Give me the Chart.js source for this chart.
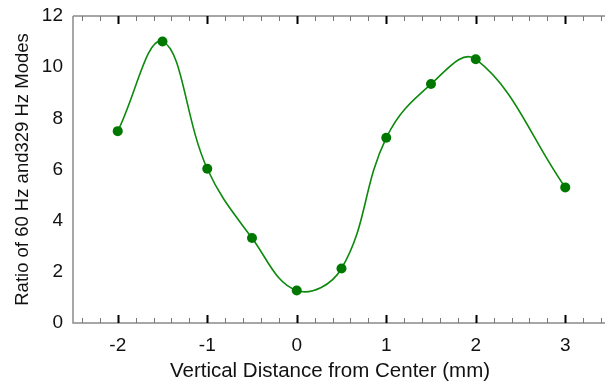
<!DOCTYPE html>
<html>
<head>
<meta charset="utf-8">
<script src="https://cdn.jsdelivr.net/npm/chart.js@4/dist/chart.umd.min.js"></script>
<style>
  html, body { margin: 0; padding: 0; background: #fff; overflow: hidden; }
  #wrap { width: 605px; height: 383px; overflow: hidden; }
</style>
</head>
<body>
<div id="wrap"><canvas id="myChart" width="620" height="383"></canvas></div>
<script>
// datos
const distances = [-2, -1.5, -1, -0.5, 0, 0.5, 1, 1.5, 2, 3];
const ratios = [7.5, 11.0, 6.03, 3.32, 1.27, 2.13, 7.24, 9.34, 10.31, 5.3];
const xTickLabels = [-2, -1, 0, 1, 2, 3];
const yTickLabels = [0, 2, 4, 6, 8, 10, 12];
const xTitle = "Vertical Distance from Center (mm)";
const yTitle = "Ratio of 60 Hz and329 Hz Modes";

const lineColor = "#0b8a0b";
const pointColor = "#007800";
const fontFamily = "Liberation Sans, Arial, sans-serif";

// marcas menores cada 0.2 en el eje x
const xMinorTicks = [];
for (let i = -12; i <= 17; i++) xMinorTicks.push(Math.round(i * 2) / 10);

const isMajor = (v) => xTickLabels.some((t) => Math.abs(t - v) < 1e-6);

// marco y marcas hacia adentro (como en la grafica original)
const framePlugin = {
  id: "frame",
  beforeDatasetsDraw(chart) {
    const { ctx, chartArea, scales } = chart;
    const x = scales.x;
    ctx.save();
    ctx.strokeStyle = "#8a8a8a";
    ctx.lineWidth = 1.5;
    ctx.beginPath();
    ctx.moveTo(chartArea.left, chartArea.top);
    ctx.lineTo(chart.width, chartArea.top);
    ctx.moveTo(chartArea.left, chartArea.top);
    ctx.lineTo(chartArea.left, chartArea.bottom);
    ctx.lineTo(chart.width, chartArea.bottom);
    ctx.stroke();

    xMinorTicks.forEach((v) => {
      const px = Math.round(x.getPixelForValue(v)) + 0.5;
      const major = isMajor(v);
      ctx.strokeStyle = major ? "#000" : "#777";
      ctx.lineWidth = major ? 2 : 1;
      const len = major ? 7 : 4;
      ctx.beginPath();
      ctx.moveTo(px, chartArea.top);
      ctx.lineTo(px, chartArea.top + len + 1);
      ctx.moveTo(px, chartArea.bottom);
      ctx.lineTo(px, chartArea.bottom - len - 1);
      ctx.stroke();
    });

    // titulo del eje x (un poco a la izquierda del centro, como el original)
    ctx.fillStyle = "#111";
    ctx.font = "20.5px " + fontFamily;
    ctx.textAlign = "center";
    ctx.textBaseline = "middle";
    ctx.fillText(xTitle, 330, 371);
    ctx.restore();
  }
};

const config = {
  type: "scatter",
  data: {
    datasets: [
      {
        label: "Ratio",
        data: distances.map((d, i) => ({ x: d, y: ratios[i] })),
        showLine: true,
        tension: 0.4,
        borderColor: lineColor,
        borderWidth: 1.6,
        pointRadius: 5,
        pointBackgroundColor: pointColor,
        pointBorderColor: pointColor,
        pointBorderWidth: 0
      }
    ]
  },
  options: {
    responsive: false,
    animation: false,
    clip: false,
    layout: { padding: { top: 16, right: 10, left: 0, bottom: 0 } },
    plugins: {
      legend: { display: false },
      tooltip: { enabled: false }
    },
    scales: {
      x: {
        type: "linear",
        min: -2.5,
        max: 3.5,
        afterBuildTicks: (scale) => {
          scale.ticks = xTickLabels.map((v) => ({ value: v }));
        },
        afterFit: (scale) => { scale.height = 60; },
        grid: { display: false, drawTicks: false },
        border: { display: false },
        ticks: {
          color: "#111",
          padding: 11,
          font: { family: fontFamily, size: 19 },
          callback: (v) => String(v)
        },
        title: { display: false }
      },
      y: {
        min: 0,
        max: 12,
        afterBuildTicks: (scale) => {
          scale.ticks = yTickLabels.map((v) => ({ value: v }));
        },
        afterFit: (scale) => { scale.width = 73; },
        grid: { display: false, drawTicks: false },
        border: { display: false },
        ticks: {
          color: "#111",
          padding: 10,
          font: { family: fontFamily, size: 19, lineHeight: 0.5 }
        },
        title: {
          display: true,
          text: yTitle,
          color: "#111",
          padding: { top: 12, bottom: 0 },
          font: { family: fontFamily, size: 18.5 }
        }
      }
    }
  },
  plugins: [framePlugin]
};

const myChart = document.getElementById("myChart");
myChart.style.backgroundColor = "white";
new Chart(myChart, config);
</script>
</body>
</html>
